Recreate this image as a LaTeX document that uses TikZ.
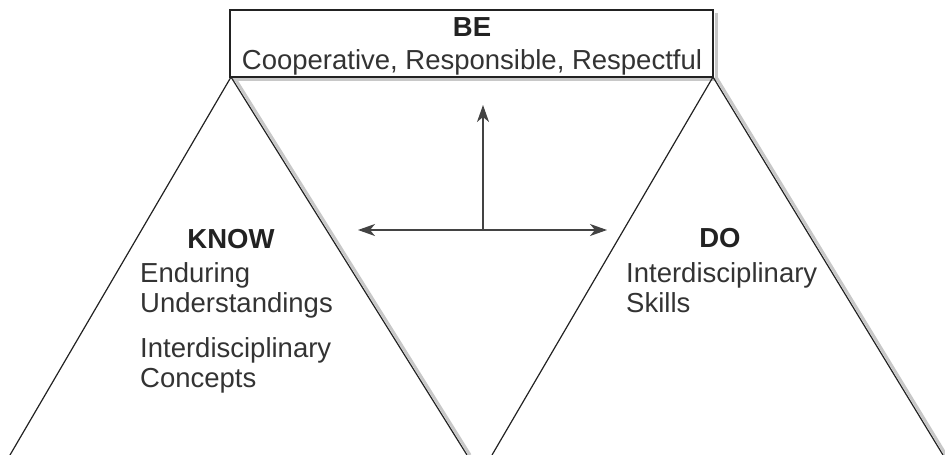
\documentclass[tikz,border=0pt]{standalone}
\usepackage{fontspec}
\setmainfont{Liberation Sans}
\usetikzlibrary{arrows.meta}
\definecolor{ink}{HTML}{222222}
\definecolor{txt}{HTML}{333333}
\definecolor{shade}{HTML}{C8C8C8}
\tikzset{
  edge/.style={draw=ink, line width=1.2pt},
  shadowline/.style={draw=shade, line width=3pt},
  arr/.style={draw=ink!85, line width=1.4pt, -{Stealth[length=17pt,width=12pt,inset=5pt]}},
  head/.style={font=\fontsize{27.5}{30}\selectfont\bfseries, text=ink, inner sep=0pt, anchor=base},
  body/.style={font=\fontsize{27.5}{30}\selectfont, text=txt, inner sep=0pt, anchor=base west},
}
\begin{document}
\begin{tikzpicture}[x=1pt,y=-1pt]
\useasboundingbox (0,0) rectangle (945,455);
% coordinates
\coordinate (bl) at (230,10);
\coordinate (br) at (713,77);
\coordinate (la) at (231,77);
\coordinate (ll) at (10,455);
\coordinate (lr) at (467,455);
\coordinate (ra) at (713,77);
\coordinate (rl) at (492,455);
\coordinate (rr) at (943,455);
% shadows
\draw[shadowline] ([xshift=3pt]la) -- ([xshift=3pt]lr);
\draw[shadowline] ([xshift=3pt]ra) -- ([xshift=3pt]rr);
\draw[shadowline] (233,79) -- (716,79) -- (716,13);
% box
\draw[edge, fill=white] (bl) rectangle (br);
% triangles
\draw[edge] (ll) -- (la) -- (lr);
\draw[edge] (rl) -- (ra) -- (rr);
% texts
\node[head] (be) at (472,36) {BE};
\node[body, anchor=base] (bebody) at (472,69) {Cooperative, Responsible, Respectful};
\node[head] (know) at (231,248) {KNOW};
\node[body] (k1) at (140,282) {Enduring};
\node[body] (k2) at (140,312) {Understandings};
\node[body] (k3) at (140,357) {Interdisciplinary};
\node[body] (k4) at (140,387) {Concepts};
\node[head] (do) at (720,247) {DO};
\node[body] (d1) at (626,282) {Interdisciplinary};
\node[body] (d2) at (626,312) {Skills};
% arrows
\coordinate (c) at (483,230);
\coordinate (up) at (483,105);
\coordinate (lt) at (358,230);
\coordinate (rt) at (607,230);
\draw[arr] (c) -- (up);
\draw[arr] (c) -- (lt);
\draw[arr] (c) -- (rt);
\end{tikzpicture}
\end{document}
